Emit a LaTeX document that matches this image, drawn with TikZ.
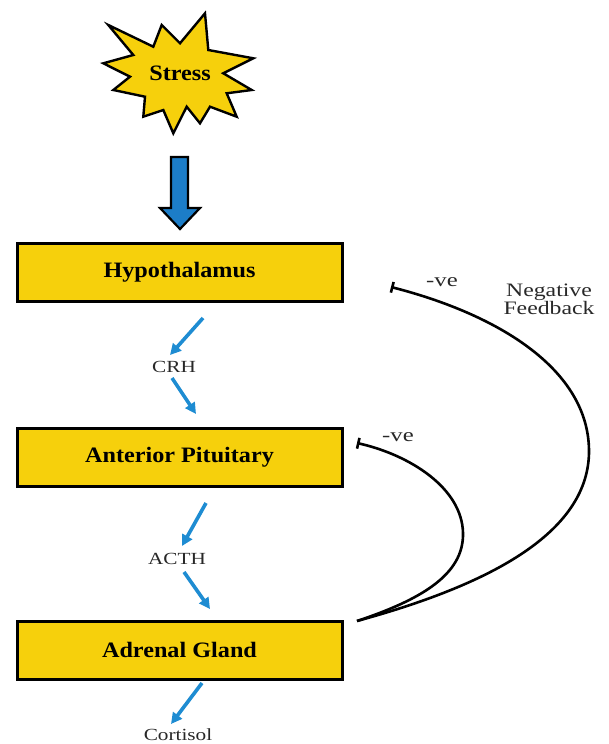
\documentclass[tikz,border=0pt]{standalone}
\usepackage{fontspec}
\setmainfont{Liberation Serif}
\usetikzlibrary{arrows.meta}
\definecolor{boxyellow}{RGB}{246,208,12}
\definecolor{arrowblue}{RGB}{30,140,210}
\definecolor{bigblue}{RGB}{28,125,200}
\definecolor{txt}{RGB}{40,40,40}
\tikzset{
  organ/.style={draw=black, line width=3pt, fill=boxyellow, minimum width=325pt, minimum height=58pt, inner sep=0pt, text=black},
  hormone/.style={arrowblue, line width=3.6pt, -{Triangle[length=11pt,width=11pt]}},
  lbl/.style={inner sep=0pt, text=txt},
  fbline/.style={black, line width=2.6pt, {Bar[width=11pt,line width=2.6pt]}-},
}
\newcommand{\boxtext}[1]{\fontsize{22}{24}\selectfont\bfseries\scalebox{1.1}[1]{#1}}
\newcommand{\smalltext}[1]{\fontsize{17}{19}\selectfont\scalebox{1.25}[1]{#1}}
\begin{document}
\begin{tikzpicture}[x=1pt,y=-1pt]
\useasboundingbox (0,0) rectangle (608,744);
% star
\draw[fill=boxyellow, line width=2.4pt, line join=miter]
 (108.3,25) -- (153.3,46.7) -- (161.7,25) -- (180,43.3) -- (205,13.3) -- (208.3,50)
 -- (253.3,58.3) -- (223.3,73.3) -- (251.7,90) -- (226.7,93.3) -- (236.7,116.7)
 -- (210,106.7) -- (200,123.3) -- (186.7,106.7) -- (173.3,133.3) -- (163.3,110)
 -- (143.3,116.7) -- (145,96.7) -- (113.3,90) -- (130,76.7) -- (103.3,63.3)
 -- (133.3,55) -- cycle;
\node[lbl, text=black] (stress) at (180,73) {\boxtext{Stress}};
% big arrow
\draw[fill=bigblue, line width=2.2pt, line join=miter]
 (171,157) -- (188,157) -- (188,208) -- (200,208) -- (180,229) -- (160,208) -- (171,208) -- cycle;
% boxes
\node[organ] (hyp) at (179.5,272.5) {\boxtext{Hypothalamus}};
\node[organ] (ant) at (179.5,457.5) {\boxtext{Anterior Pituitary}};
\node[organ] (adr) at (179.5,650) {\boxtext{Adrenal Gland}};
% hormone labels
\node[lbl] (crh) at (174,367) {\smalltext{CRH}};
\node[lbl] (acth) at (177,559) {\smalltext{ACTH}};
\node[lbl] (cort) at (178,735) {\smalltext{Cortisol}};
% hormone arrows
\coordinate (h1s) at (203,318); \coordinate (h1e) at (170,355);
\coordinate (h2s) at (172,378); \coordinate (h2e) at (196,414);
\coordinate (a1s) at (206,503); \coordinate (a1e) at (182,546);
\coordinate (a2s) at (184,572); \coordinate (a2e) at (210,609);
\coordinate (c1s) at (202,683); \coordinate (c1e) at (171,724);
\draw[hormone] (h1s) -- (h1e);
\draw[hormone] (h2s) -- (h2e);
\draw[hormone] (a1s) -- (a1e);
\draw[hormone] (a2s) -- (a2e);
\draw[hormone] (c1s) -- (c1e);
% feedback
\coordinate (src) at (357,621);
\coordinate (fbtop) at (391,287);
\coordinate (fblow) at (357,443);
\draw[fbline] (fbtop) .. controls (500,315) and (588,370) .. (589,450)
  .. controls (590,540) and (470,590) .. (src);
\draw[fbline] (fblow) .. controls (410,455) and (462,488) .. (463,533)
  .. controls (464,575) and (420,600) .. (src);
\node[lbl] (ve1) at (442,282) {\fontsize{19}{21}\selectfont\scalebox{1.3}[1]{-ve}};
\node[lbl] (ve2) at (398,437) {\fontsize{19}{21}\selectfont\scalebox{1.3}[1]{-ve}};
\node[lbl, align=center] (nf) at (549,299) {\fontsize{19}{23}\selectfont\scalebox{1.25}[1]{Negative}\\\fontsize{19}{23}\selectfont\scalebox{1.25}[1]{Feedback}};
\end{tikzpicture}
\end{document}
